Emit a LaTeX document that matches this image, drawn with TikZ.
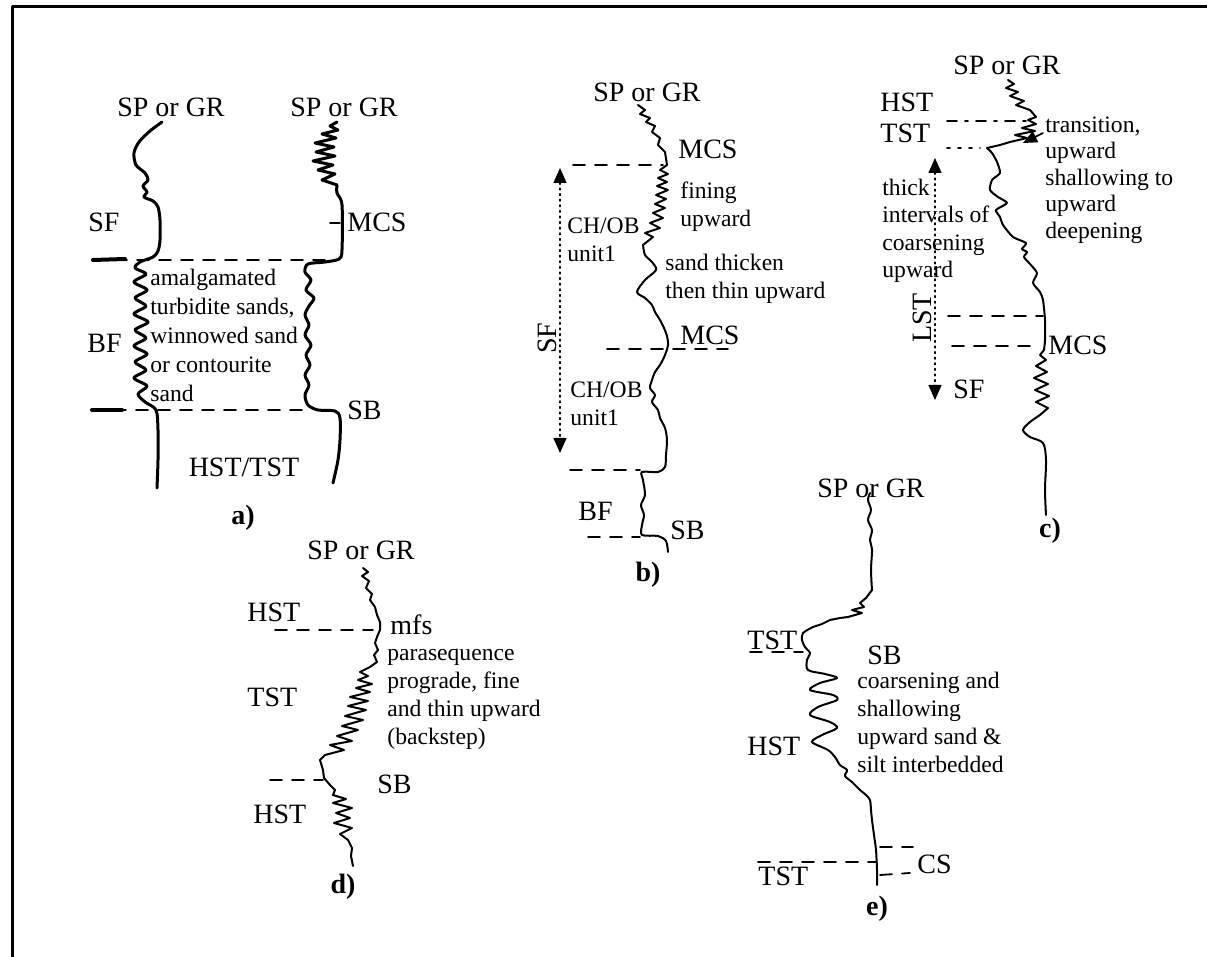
\documentclass[tikz,border=0pt]{standalone}
\usepackage{fontspec}
\setmainfont{Liberation Serif}
\usetikzlibrary{arrows.meta}

\begin{document}
\begin{tikzpicture}[x=0.5pt,y=-0.5pt,line join=round,line cap=round,
  logline/.style={line width=1pt},
  boldlog/.style={line width=1.5pt},
  tie/.style={line width=0.9pt,dash pattern=on 6pt off 5pt},
  lbl/.style={font=\fontsize{14}{16}\selectfont,inner sep=0pt},
  note/.style={font=\fontsize{11.8}{14}\selectfont,align=left,inner sep=0pt,anchor=north west},
  panel/.style={font=\fontsize{14}{16}\selectfont\bfseries,inner sep=0pt,anchor=base},
  span/.style={dotted,line width=0.8pt,{Triangle[width=6.5pt,length=7.5pt]}-{Triangle[width=6.5pt,length=7.5pt]}}]

\useasboundingbox (0,0) rectangle (1207,957);

% frame
\coordinate (f0) at (12,957);
\coordinate (f1) at (12,7);
\coordinate (f2) at (1207,7);
\draw[line width=1.5pt] (f0)--(f1)--(f2);

% tie lines
\coordinate (ta1l) at (93,260);  \coordinate (ta1r) at (327,260);
\coordinate (ta2l) at (92,410);  \coordinate (ta2r) at (307,410);
\coordinate (tb1l) at (573,165); \coordinate (tb1r) at (663,165);
\coordinate (tb2l) at (607,349); \coordinate (tb2r) at (728,349);
\coordinate (tb3l) at (570,470); \coordinate (tb3r) at (640,470);
\coordinate (tb4l) at (588,537); \coordinate (tb4r) at (640,537);
\coordinate (tc1l) at (947,121); \coordinate (tc1r) at (1027,121);
\coordinate (tc2l) at (947,148); \coordinate (tc2r) at (980,148);
\coordinate (tc3l) at (948,316); \coordinate (tc3r) at (1043,316);
\coordinate (tc4l) at (952,346); \coordinate (tc4r) at (1038,346);
\coordinate (td1l) at (275,630); \coordinate (td1r) at (373,630);
\coordinate (td2l) at (270,780); \coordinate (td2r) at (323,780);
\coordinate (te1l) at (750,652); \coordinate (te1r) at (803,652);
\coordinate (te2l) at (758,862); \coordinate (te2r) at (877,862);
\coordinate (te3l) at (880,847); \coordinate (te3r) at (913,847);
\coordinate (te4l) at (880,875); \coordinate (te4r) at (910,873);

\foreach \p in {a1,a2,b1,b2,b3,b4,c3,c4,d1,d2,e1,e2,e3,e4}{
    \draw[tie] (t\p l) -- (t\p r);
}
\draw[line width=0.9pt,dash pattern=on 5pt off 4pt on 1.5pt off 4pt] (tc1l) -- (tc1r);
\draw[line width=0.9pt,dash pattern=on 1.5pt off 4pt] (tc2l) -- (tc2r);
\draw[line width=2pt] (ta1l) -- (125,259);
\draw[line width=2pt] (ta2l) -- (122,410);
\draw[line width=0.8pt] (330,223) -- (340,223);

% logs, panel a
\draw[boldlog] plot[smooth,tension=0.5] coordinates {(162,122) (150,131) (139,142) (134,153) (136,165) (145,173)
  (148,180) (143,186) (147,192) (144,197) (153,201) (158,207) (160,220) (160,240) (158,251) (153,257) (140,262)
  (135,268) (146,274) (134,282) (147,290) (135,298) (146,306) (134,314) (148,322) (135,330) (146,338)
  (134,346) (147,354) (135,362) (146,370) (134,378) (147,386) (138,394) (145,402) (156,410) (158,430)
  (158,460) (157,488)};
\draw[boldlog] (337,122) -- (330,126) -- (338,130) -- (322,134) -- (336,138) -- (315,143) -- (334,147)
  -- (316,152) -- (335,156) -- (313,161) -- (333,165) -- (318,170) -- (335,174) -- (322,180) -- (337,185);
\draw[boldlog] plot[smooth,tension=0.5] coordinates {(337,185) (337,193) (342,205) (342,250) (339,259)
  (325,262) (308,264) (305,272) (311,280) (306,290) (314,298) (309,306) (305,315) (309,325) (305,335)
  (311,345) (306,355) (310,365) (305,375) (309,385) (305,395) (308,405) (318,410) (335,411) (340,418)
  (340,440) (338,460) (333,483)};

% logs, panel b
\draw[logline] (638,105) -- (645,110) -- (640,114) -- (650,118) -- (646,122) -- (655,126) -- (652,132)
  -- (660,138) -- (658,145) -- (665,152) -- (667,165) -- (660,170) -- (668,174) -- (658,178) -- (667,182)
  -- (657,186) -- (668,190) -- (656,195) -- (666,199) -- (655,204) -- (665,208) -- (653,213) -- (663,218)
  -- (650,223) -- (660,228) -- (645,233) -- (653,237) -- (643,245);
\draw[logline] plot[smooth,tension=0.5] coordinates {(643,245) (645,255) (652,262) (656,270) (645,280)
  (637,292) (645,298) (652,305) (655,312) (660,320) (664,328) (667,336) (668,345) (665,355) (660,365)
  (655,372) (652,380) (650,388) (655,395) (652,402) (658,410) (660,418) (665,428) (667,440) (666,455)
  (665,467) (658,472) (642,472) (643,480) (645,495) (641,505) (644,515) (642,525) (642,535) (658,536)
  (666,541) (668,552)};

% logs, panel c
\draw[logline] (1008,80) -- (1014,84) -- (1006,88) -- (1018,92) -- (1010,96) -- (1024,101) -- (1016,105)
  -- (1030,110) -- (1036,117) -- (1028,120) -- (1036,124) -- (1022,128) -- (1035,131) -- (1015,135)
  -- (1027,138) -- (1010,142) -- (1000,145) -- (987,148);
\draw[logline] plot[smooth,tension=0.4] coordinates {(987,148) (992,153) (997,162) (1000,173) (992,180)
  (990,190) (998,197) (1007,203) (996,210) (1000,217) (1003,225) (1013,237) (1026,243) (1022,249)
  (1027,252) (1024,257) (1030,264) (1037,273) (1033,283) (1040,292) (1043,300) (1045,320) (1045,340)
  (1044,350)};
\draw[logline] (1044,350) -- (1040,355) -- (1046,360) -- (1036,366) -- (1047,372) -- (1034,378)
  -- (1048,384) -- (1035,390) -- (1049,396) -- (1036,402) -- (1048,408) -- (1040,415);
\draw[logline] plot[smooth,tension=0.5] coordinates {(1040,415) (1030,422) (1023,430) (1030,437)
  (1043,443) (1046,460) (1045,490) (1046,515)};

% logs, panel d
\draw[logline] (363,568) -- (368,572) -- (362,576) -- (369,581) -- (366,588) -- (372,594) -- (370,600)
  -- (375,607) -- (377,615) -- (380,622) -- (380,630) -- (377,637) -- (375,643) -- (378,650) -- (374,655)
  -- (377,662) -- (370,667) -- (360,672) -- (368,676) -- (358,680) -- (372,684) -- (356,688) -- (370,692)
  -- (350,697) -- (368,701) -- (348,706) -- (366,710) -- (345,716) -- (363,720) -- (342,726) -- (358,730)
  -- (337,736) -- (352,741) -- (330,745) -- (344,750) -- (325,755) -- (320,760) -- (323,770) -- (324,778)
  -- (330,785) -- (335,790) -- (333,795) -- (346,799) -- (333,803) -- (352,808) -- (336,813) -- (350,818)
  -- (334,823) -- (352,828) -- (340,834) -- (348,840) -- (352,848) -- (351,856) -- (353,866);

% logs, panel e
\draw[logline] plot[smooth,tension=0.5] coordinates {(870,493) (868,500) (871,510) (868,520) (872,530)
  (870,540) (872,550) (871,570) (872,590)};
\draw[logline] (872,590) -- (866,598) -- (860,603) -- (864,607) -- (852,610) -- (862,613) -- (848,617)
  -- (840,618) -- (830,620) -- (822,624) -- (813,627);
\draw[logline] plot[smooth,tension=0.5] coordinates {(813,627) (803,633) (802,640) (805,647) (810,653)
  (807,660) (808,670) (825,674) (837,678) (820,683) (810,690) (833,695) (837,700) (818,707) (810,715)
  (830,722) (837,728) (822,735) (812,742) (828,750) (835,757) (840,765) (847,770) (845,776) (852,782)
  (860,790) (866,795) (870,800) (871,810) (872,820) (874,835) (876,850) (877,870) (877,885)};

% spans
\coordinate (sb0) at (560,168);
\coordinate (sb1) at (560,453);
\coordinate (sc0) at (935,158);
\coordinate (sc1) at (935,400);
\draw[span] (sb0) -- (sb1);
\draw[span] (sc0) -- (sc1);
\coordinate (tr0) at (1043,133);
\coordinate (tr1) at (1023,143);
\draw[line width=0.8pt,-{Triangle[width=6pt,length=7pt]}] (tr0) -- (tr1);

% labels, panel a
\node[lbl,anchor=base] (spa1) at (171,117) {SP or GR};
\node[lbl,anchor=base] (spa2) at (344,117) {SP or GR};
\node[lbl,anchor=base west] (sfa) at (88,232) {SF};
\node[lbl,anchor=base west] (mcsa) at (347,232) {MCS};
\node[lbl,anchor=base west] (bfa) at (87,353) {BF};
\node[lbl,anchor=base west] (sba) at (347,420) {SB};
\node[lbl,anchor=base] (hta) at (244,477) {HST/TST};
\node[note,font=\fontsize{11.8}{14.5}\selectfont] (ama) at (150,269)
  {amalgamated\\turbidite sands,\\winnowed sand\\or contourite\\sand};
\node[panel] (pa) at (243,525) {a)};

% labels, panel b
\node[lbl,anchor=base] (spb) at (647,102) {SP or GR};
\node[lbl,anchor=base west] (mcsb1) at (678,159) {MCS};
\node[lbl,anchor=base west] (mcsb2) at (680,345) {MCS};
\node[lbl,anchor=base west] (bfb) at (578,521) {BF};
\node[lbl,anchor=base west] (sbb) at (670,540) {SB};
\node[lbl,rotate=90] (sfb) at (547,338) {SF};
\node[note] (fib) at (680,181) {fining\\upward};
\node[note] (chb1) at (567,217) {CH/OB\\unit1};
\node[note] (stb) at (665,254) {sand thicken\\then thin upward};
\node[note] (chb2) at (570,381) {CH/OB\\unit1};
\node[panel] (pb) at (648,582) {b)};

% labels, panel c
\node[lbl,anchor=base] (spc) at (1007,75) {SP or GR};
\node[lbl,anchor=base west] (hsc) at (880,112) {HST};
\node[lbl,anchor=base west] (tsc) at (880,143) {TST};
\node[lbl,anchor=base west] (mcsc) at (1048,355) {MCS};
\node[lbl,anchor=base west] (sfc) at (953,399) {SF};
\node[lbl,rotate=90] (lsc) at (922,318) {LST};
\node[note,font=\fontsize{11.8}{13.3}\selectfont] (trc) at (1045,116)
  {transition,\\upward\\shallowing to\\upward\\deepening};
\node[note,font=\fontsize{11.8}{13.6}\selectfont] (thc) at (882,179)
  {thick\\intervals of\\coarsening\\upward};
\node[panel] (pc) at (1050,538) {c)};

% labels, panel d
\node[lbl,anchor=base] (spd) at (361,560) {SP or GR};
\node[lbl,anchor=base west] (hsd1) at (247,622) {HST};
\node[lbl,anchor=base west] (mfd) at (390,635) {mfs};
\node[lbl,anchor=base west] (tsd) at (247,707) {TST};
\node[lbl,anchor=base west] (sbd) at (377,793) {SB};
\node[lbl,anchor=base west] (hsd2) at (253,823) {HST};
\node[note] (pad) at (387,649)
  {parasequence\\prograde, fine\\and thin upward\\(backstep)};
\node[panel] (pd) at (343,893) {d)};

% labels, panel e
\node[lbl,anchor=base] (spe) at (871,498) {SP or GR};
\node[lbl,anchor=base west] (tse1) at (747,650) {TST};
\node[lbl,anchor=base west] (sbe) at (867,665) {SB};
\node[lbl,anchor=base west] (hse) at (747,755) {HST};
\node[lbl,anchor=base west] (tse2) at (758,885) {TST};
\node[lbl,anchor=base west] (cse) at (917,873) {CS};
\node[note] (coe) at (857,672)
  {coarsening and\\shallowing\\upward sand \&\\silt interbedded};
\node[panel] (pe) at (877,915) {e)};

\end{tikzpicture}
\end{document}
